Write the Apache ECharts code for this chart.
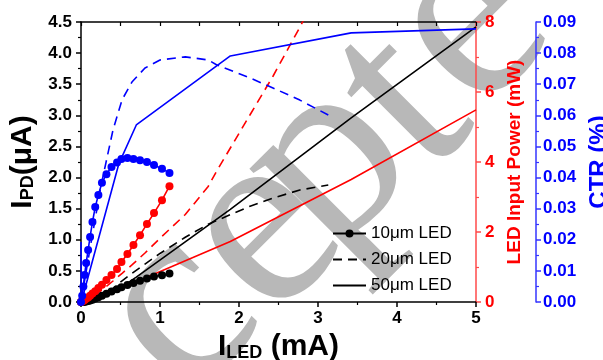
<!DOCTYPE html>
<html>
<head>
<meta charset="utf-8">
<script src="https://cdn.jsdelivr.net/npm/echarts@6.0.0/dist/echarts.min.js"></script>
<style>
  html, body { margin: 0; padding: 0; background: #fff; }
  #chart { width: 603px; height: 360px; }
</style>
</head>
<body>
<div id="chart"></div>
<script>
// 10um LED (dots)
const cur10 = [0, 0.015, 0.03, 0.045, 0.065, 0.09, 0.115, 0.145, 0.18, 0.22, 0.265, 0.322, 0.386, 0.456, 0.512, 0.588, 0.664, 0.747, 0.835, 0.924, 1.025, 1.12];
const ipd10 = [0, 0.0003, 0.0015, 0.004, 0.008, 0.015, 0.024, 0.037, 0.055, 0.076, 0.10, 0.132, 0.168, 0.204, 0.236, 0.272, 0.305, 0.34, 0.376, 0.41, 0.43, 0.46];
const pow10 = [0, 0.015, 0.035, 0.06, 0.09, 0.13, 0.18, 0.24, 0.31, 0.40, 0.49, 0.63, 0.77, 0.94, 1.14, 1.37, 1.63, 1.91, 2.23, 2.54, 2.91, 3.31];
const ctr10 = [0, 0.002, 0.005, 0.0087, 0.0125, 0.0167, 0.0209, 0.0257, 0.0305, 0.0344, 0.0383, 0.0411, 0.0434, 0.0448, 0.046, 0.0463, 0.046, 0.0456, 0.045, 0.044, 0.0428, 0.0415];

// 20um LED (dashed)
const cur20 = [0, 0.12, 0.25, 0.405, 0.52, 0.645, 0.81, 1.0, 1.32, 1.61, 1.72, 2.14, 2.43, 2.77, 3.13];
const ipd20 = [0, 0.02, 0.09, 0.22, 0.34, 0.46, 0.61, 0.78, 1.04, 1.25, 1.31, 1.54, 1.67, 1.80, 1.88];
const pow20 = [0, 0.14, 0.32, 0.6, 0.82, 1.06, 1.4, 1.82, 2.5, 3.3, 3.75, 5.35, 6.45, 7.85, 9.4];
const ctr20 = [0, 0.018, 0.037, 0.0553, 0.065, 0.0707, 0.0752, 0.0778, 0.0788, 0.0778, 0.0762, 0.072, 0.0688, 0.0649, 0.0601];

// 50um LED (solid)
const cur50 = [0, 0.004, 0.48, 0.70, 1.89, 3.42, 5.0];
const ipd50 = [0, 0, 0.21, 0.40, 1.49, 2.96, 4.42];
const pow50 = [0, 0, 0.38, 0.58, 1.73, 3.50, 5.49];
const ctr50 = [0.0193, 0, 0.0445, 0.0569, 0.0791, 0.0865, 0.0878];

const legendNames = ['10μm LED', '20μm LED', '50μm LED'];

// watermark letters, each at its own spot along the diagonal
const stampLetters = ['c', 'e', 'p', 't', 'e'];
const stampAnchors = [[178, 313], [263, 233], [328, 163], [404, 102], [470, 26]];

const FONT = '"Liberation Sans", Arial, sans-serif';
const BLACK = '#000000';
const RED = '#ff0000';
const BLUE = '#0000ff';

const zip = (xs, ys) => xs.map((x, i) => [x, ys[i]]);

// 线型
const solid = { width: 1.6, type: 'solid' };
const dashed = { width: 1.6, type: [9, 6] };

const makeSeries = (data, color, yAxisIndex, lineType, dots) => ({
  type: 'line',
  xAxisIndex: 0,
  yAxisIndex,
  data,
  color,
  symbol: dots ? 'circle' : 'none',
  symbolSize: 8,
  showAllSymbol: true,
  lineStyle: { ...lineType, color },
  itemStyle: { color },
  silent: true,
  animation: false,
  z: 3,
});

const tickLabel = (color) => ({
  color,
  fontWeight: 'bold',
  fontSize: 17,
  fontFamily: FONT,
});

const subRich = {
  b: { fontSize: 30, fontWeight: 'bold', fontFamily: FONT, color: BLACK, lineHeight: 30 },
  s: { fontSize: 18, fontWeight: 'bold', fontFamily: FONT, color: BLACK, lineHeight: 12, verticalAlign: 'bottom' },
};

const chart = echarts.init(document.getElementById('chart'), null, { renderer: 'canvas' });

chart.setOption({
  animation: false,
  grid: { left: 81, right: 127, top: 22, bottom: 58, containLabel: false, outerBoundsMode: 'none' },
  graphic: stampLetters.map((ch, i) => ({
    type: 'text',
    x: stampAnchors[i][0],
    y: stampAnchors[i][1],
    rotation: Math.PI / 4,
    silent: true,
    z: -10,
    style: {
      text: ch,
      fontSize: 262,
      fontFamily: '"Liberation Serif", serif',
      fill: '#b8b8b8',
      align: 'center',
      verticalAlign: 'middle',
    },
  })),
  legend: {
    data: [
      { name: legendNames[0] },
      { name: legendNames[1], itemStyle: { opacity: 0 } },
      { name: legendNames[2], itemStyle: { opacity: 0 } },
    ],
    orient: 'vertical',
    left: 327,
    top: 220,
    itemWidth: 33,
    itemHeight: 10,
    itemGap: 9,
    textStyle: { fontSize: 17, color: BLACK, fontFamily: FONT },
    selectedMode: false,
  },
  xAxis: [
    {
      type: 'value', min: 0, max: 5, interval: 1, position: 'bottom',
      axisLine: { show: true, onZero: false, lineStyle: { color: BLACK, width: 1.5 } },
      axisTick: { show: true, length: 5, lineStyle: { color: BLACK, width: 1.5 } },
      minorTick: { show: true, splitNumber: 2, length: 3, lineStyle: { color: BLACK, width: 1.2 } },
      splitLine: { show: false },
      axisLabel: { ...tickLabel(BLACK), margin: 8 },
      name: '{b|I}{s|LED}{b| (mA)}',
      nameLocation: 'middle',
      nameGap: 29,
      nameTextStyle: { rich: subRich },
    },
    {
      type: 'value', min: 0, max: 5, interval: 1, position: 'top',
      axisLine: { show: true, onZero: false, lineStyle: { color: BLACK, width: 1.5 } },
      axisTick: { show: true, inside: true, length: 4, lineStyle: { color: BLACK, width: 1.2 } },
      minorTick: { show: true, splitNumber: 2, length: 4, lineStyle: { color: BLACK, width: 1.2 } },
      splitLine: { show: false },
      axisLabel: { show: false },
    },
  ],
  yAxis: [
    {
      type: 'value', min: 0, max: 4.5, interval: 0.5, position: 'left',
      axisLine: { show: true, onZero: false, lineStyle: { color: BLACK, width: 1.5 } },
      axisTick: { show: true, length: 5, lineStyle: { color: BLACK, width: 1.5 } },
      minorTick: { show: true, splitNumber: 2, length: 3, lineStyle: { color: BLACK, width: 1.2 } },
      splitLine: { show: false },
      axisLabel: { ...tickLabel(BLACK), margin: 9, formatter: (v) => v.toFixed(1) },
      name: '{b|I}{s|PD}{b|(μA)}',
      nameLocation: 'middle',
      nameGap: 39,
      nameTextStyle: { rich: subRich },
    },
    {
      type: 'value', min: 0, max: 8, interval: 2, position: 'right',
      axisLine: { show: true, onZero: false, lineStyle: { color: '#ff4a4a', width: 1.5 } },
      axisTick: { show: true, length: 5, lineStyle: { color: '#ff4a4a', width: 1.5 } },
      minorTick: { show: true, splitNumber: 2, length: 3, lineStyle: { color: '#ff4a4a', width: 1.2 } },
      splitLine: { show: false },
      axisLabel: { ...tickLabel(RED), margin: 9 },
      name: 'LED Input Power (mW)',
      nameLocation: 'middle',
      nameGap: 28,
      nameTextStyle: { fontSize: 19, fontWeight: 'bold', fontFamily: FONT, color: RED },
    },
    {
      type: 'value', min: 0, max: 0.09, interval: 0.01, position: 'right', offset: 60,
      axisLine: { show: true, onZero: false, lineStyle: { color: '#3434ff', width: 1.5 } },
      axisTick: { show: true, length: 5, lineStyle: { color: '#3434ff', width: 1.5 } },
      minorTick: { show: true, splitNumber: 2, length: 3, lineStyle: { color: '#3434ff', width: 1.2 } },
      splitLine: { show: false },
      axisLabel: { ...tickLabel(BLUE), margin: 7, formatter: (v) => v.toFixed(2) },
      name: 'CTR (%)',
      nameLocation: 'middle',
      nameGap: 46,
      nameTextStyle: { fontSize: 24, fontWeight: 'bold', fontFamily: FONT, color: BLUE },
    },
  ],
  series: [
    makeSeries(zip(cur10, ipd10), BLACK, 0, solid, true),
    makeSeries(zip(cur10, pow10), RED, 1, solid, true),
    makeSeries(zip(cur10, ctr10), BLUE, 2, solid, true),
    makeSeries(zip(cur20, ipd20), BLACK, 0, dashed, false),
    makeSeries(zip(cur20, pow20), RED, 1, dashed, false),
    makeSeries(zip(cur20, ctr20), BLUE, 2, dashed, false),
    makeSeries(zip(cur50, ipd50), BLACK, 0, solid, false),
    makeSeries(zip(cur50, pow50), RED, 1, solid, false),
    makeSeries(zip(cur50, ctr50), BLUE, 2, solid, false),
    // legend only
    { ...makeSeries([], BLACK, 0, solid, true), name: legendNames[0] },
    { ...makeSeries([], BLACK, 0, dashed, false), name: legendNames[1] },
    { ...makeSeries([], BLACK, 0, solid, false), name: legendNames[2] },
  ],
});
</script>
</body>
</html>
